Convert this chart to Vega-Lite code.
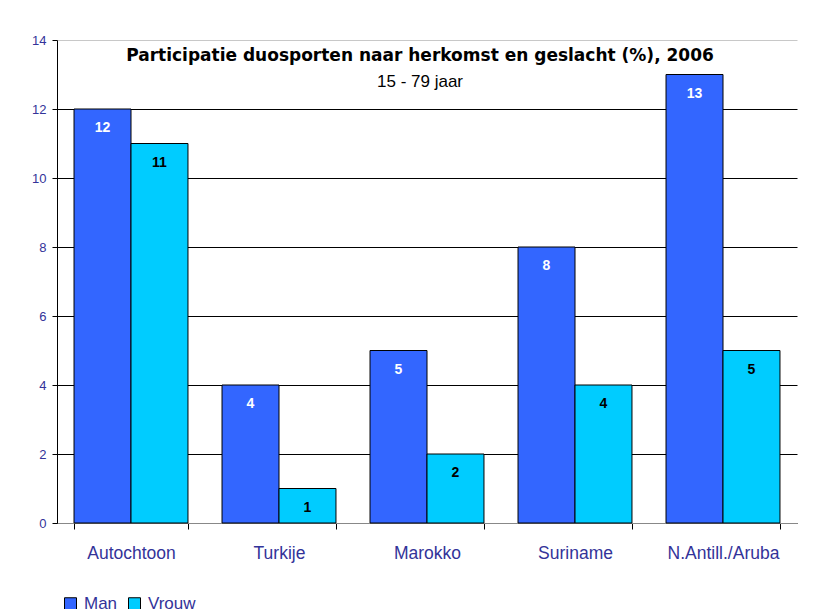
{
  "$schema": "https://vega.github.io/schema/vega-lite/v6.json",
  "width": 740,
  "height": 483,
  "autosize": "none",
  "padding": {"left": 57, "top": 40, "right": 24, "bottom": 86},
  "background": "white",
  "config": {"view": {"stroke": null}, "font": "Liberation Sans"},
  "title": {
    "text": "Participatie duosporten naar herkomst en geslacht (%), 2006",
    "subtitle": "15 - 79 jaar",
    "frame": "group",
    "anchor": "middle",
    "offset": -57,
    "dx": -7,
    "fontSize": 17,
    "fontWeight": "bold",
    "color": "black",
    "subtitleFontSize": 17,
    "subtitleColor": "black",
    "subtitlePadding": 9,
    "font": "DejaVu Sans",
    "subtitleFont": "Liberation Sans"
  },
  "data": {
    "values": [
      {"herkomst": "Autochtoon", "sex": "Man", "pct": 12},
      {"herkomst": "Autochtoon", "sex": "Vrouw", "pct": 11},
      {"herkomst": "Turkije", "sex": "Man", "pct": 4},
      {"herkomst": "Turkije", "sex": "Vrouw", "pct": 1},
      {"herkomst": "Marokko", "sex": "Man", "pct": 5},
      {"herkomst": "Marokko", "sex": "Vrouw", "pct": 2},
      {"herkomst": "Suriname", "sex": "Man", "pct": 8},
      {"herkomst": "Suriname", "sex": "Vrouw", "pct": 4},
      {"herkomst": "N.Antill./Aruba", "sex": "Man", "pct": 13},
      {"herkomst": "N.Antill./Aruba", "sex": "Vrouw", "pct": 5}
    ]
  },
  "encoding": {
    "x": {
      "field": "herkomst",
      "type": "nominal",
      "sort": null,
      "title": null,
      "scale": {"paddingInner": 0.23, "paddingOuter": 0.115},
      "axis": {
        "labelAngle": 0,
        "labelFontSize": 17.5,
        "labelColor": "#333399",
        "labelPadding": 15,
        "tickBand": "extent",
        "tickSize": 6,
        "tickColor": "black",
        "domainColor": "#888888",
        "grid": false
      }
    },
    "xOffset": {"field": "sex", "type": "nominal", "sort": ["Man", "Vrouw"]},
    "y": {
      "field": "pct",
      "type": "quantitative",
      "title": null,
      "scale": {"domain": [0, 14], "nice": false},
      "axis": {
        "values": [0, 2, 4, 6, 8, 10, 12, 14],
        "labelFontSize": 13,
        "labelColor": "#333399",
        "labelPadding": 6,
        "tickSize": 5,
        "tickColor": "black",
        "domainColor": "black",
        "grid": true,
        "gridColor": {"condition": {"test": "datum.value == 14", "value": "#c8c8c8"}, "value": "black"},
        "gridOpacity": 1
      }
    }
  },
  "layer": [
    {
      "mark": {"type": "bar", "stroke": "black", "strokeWidth": 1},
      "encoding": {
        "color": {
          "field": "sex",
          "type": "nominal",
          "scale": {"domain": ["Man", "Vrouw"], "range": ["#3366FF", "#00CCFF"]},
          "legend": {
            "title": null,
            "orient": "none",
            "legendX": 5,
            "legendY": 555,
            "direction": "horizontal",
            "symbolType": "square",
            "symbolSize": 144,
            "symbolStrokeColor": "black",
            "symbolStrokeWidth": 1,
            "symbolOpacity": 1,
            "labelFontSize": 17,
            "labelColor": "#333399",
            "labelOffset": 5,
            "columnPadding": 8
          }
        }
      }
    },
    {
      "mark": {"type": "text", "baseline": "middle", "dy": 19, "fontSize": 14, "fontWeight": "bold"},
      "encoding": {
        "text": {"field": "pct", "type": "quantitative"},
        "color": {"condition": {"test": "datum.sex == 'Man'", "value": "white"}, "value": "black"}
      }
    }
  ]
}
